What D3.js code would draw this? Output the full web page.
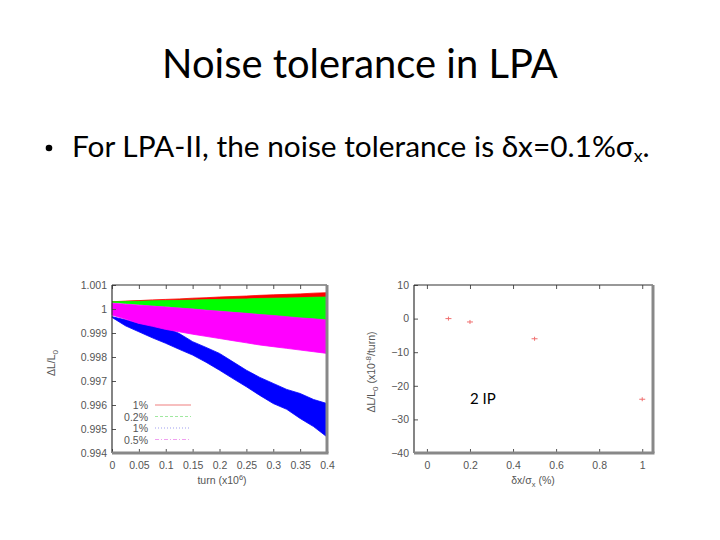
<!DOCTYPE html>
<html>
<head>
<meta charset="utf-8">
<script src="https://cdn.jsdelivr.net/npm/d3@7"></script>
<style>
  body { margin: 0; background: #fff; }
  svg { display: block; }
  .tick text { font-family: "Liberation Sans", Arial, sans-serif; font-size: 10.5px; fill: #555; }
  .lab { font-family: "Liberation Sans", Arial, sans-serif; font-size: 10.5px; fill: #555; }
</style>
</head>
<body>
<svg width="720" height="540"></svg>
<script>
// left plot: envelopes of the four noisy bands (dL/L0 vs turn, x10^6)
const turns = [0, 0.025, 0.05, 0.075, 0.1, 0.125, 0.15, 0.175, 0.2, 0.225, 0.25, 0.275, 0.3, 0.325, 0.35, 0.375, 0.4];
const redHi = [1.0003, 1.00033, 1.00035, 1.00038, 1.0004, 1.00042, 1.00045, 1.00047, 1.0005, 1.00052, 1.00054, 1.00057, 1.00059, 1.00061, 1.00063, 1.00066, 1.00068];
const redLo = [1.0003, 1.00031, 1.00032, 1.00034, 1.00035, 1.00036, 1.00037, 1.00039, 1.0004, 1.00041, 1.00042, 1.00044, 1.00045, 1.00046, 1.00047, 1.00049, 1.0005];
const greenHi = redLo;
const greenLo = [1.00028, 1.00023, 1.00019, 1.00014, 1.0001, 1.00005, 1.00001, 0.99996, 0.99992, 0.99987, 0.99982, 0.99978, 0.99973, 0.99968, 0.99964, 0.99959, 0.99954];
const blueHi = [0.99968, 0.99955, 0.9994, 0.99932, 0.99923, 0.99898, 0.99864, 0.9984, 0.99815, 0.9978, 0.99745, 0.99715, 0.9969, 0.99665, 0.99648, 0.99623, 0.99606];
const blueLo = [0.99965, 0.9993, 0.99905, 0.9988, 0.99857, 0.99832, 0.99808, 0.99778, 0.99745, 0.9971, 0.99676, 0.9964, 0.99606, 0.99582, 0.99544, 0.9951, 0.99467];
const magHi = [1.00024, 1.0002, 1.00016, 1.00012, 1.00008, 1.00004, 1.0, 0.99995, 0.99991, 0.99986, 0.99982, 0.99977, 0.99973, 0.99968, 0.99963, 0.99959, 0.99954];
const magLo = [0.99975, 0.99958, 0.9994, 0.99928, 0.99915, 0.99905, 0.99895, 0.99886, 0.99877, 0.99868, 0.99859, 0.9985, 0.99843, 0.99836, 0.99829, 0.99822, 0.99815];
const legendLabels = ["1%", "0.2%", "1%", "0.5%"];
const bandColours = ["#ff0000", "#00ff00", "#0000ff", "#ff00ff"];
const legendColours = ["#f08080", "#a0e8a0", "#a0a0f0", "#f0a0f0"];
const legendDash = ["none", "3,2", "1,2", "4,2,1,2"];
const leftYTicks = [0.994, 0.995, 0.996, 0.997, 0.998, 0.999, 1, 1.001];
const leftXTicks = [0, 0.05, 0.1, 0.15, 0.2, 0.25, 0.3, 0.35, 0.4];

// right plot: slope vs noise
const noiseLevels = [0.1, 0.2, 0.5, 1.0];
const slopes = [0, -1, -6, -24];
const rightYTicks = [-40, -30, -20, -10, 0, 10];
const rightXTicks = [0, 0.2, 0.4, 0.6, 0.8, 1];

const svg = d3.select("svg");
svg.append("rect").attr("width", 720).attr("height", 540).attr("fill", "#fff");

const slideFont = "Lato, 'Open Sans', 'Noto Sans', sans-serif";

// fit a text's width to what the slide shows
const fitWidth = (sel, target) => {
  const w = sel.node().getComputedTextLength();
  const fs = parseFloat(sel.attr("font-size"));
  sel.attr("font-size", fs * target / w);
};

const title = svg.append("text")
  .attr("x", 360).attr("y", 78)
  .attr("text-anchor", "middle")
  .attr("font-family", slideFont)
  .attr("font-size", 40)
  .text("Noise tolerance in LPA");
fitWidth(title, 396);

svg.append("circle").attr("cx", 49).attr("cy", 148).attr("r", 3.3).attr("fill", "#000");

const bullet = svg.append("text")
  .attr("x", 72).attr("y", 157)
  .attr("font-family", slideFont)
  .attr("font-size", 28);
bullet.append("tspan").text("For LPA-II, the noise tolerance is δx=0.1%σ");
bullet.append("tspan").attr("font-size", "0.6em").attr("dy", 5).text("x");
bullet.append("tspan").attr("dy", -5).text(".");
fitWidth(bullet, 578);

// frame helper: thin dark top/left, thick grey bottom/right
const frame = (g, w, h) => {
  g.append("line").attr("x1", 0).attr("x2", w).attr("y1", 0).attr("y2", 0).attr("stroke", "#333").attr("stroke-width", 1.2);
  g.append("line").attr("x1", 0).attr("x2", 0).attr("y1", 0).attr("y2", h).attr("stroke", "#333").attr("stroke-width", 1.2);
  g.append("line").attr("x1", 0).attr("x2", w + 1.5).attr("y1", h).attr("y2", h).attr("stroke", "#888").attr("stroke-width", 3);
  g.append("line").attr("x1", w).attr("x2", w).attr("y1", 0).attr("y2", h).attr("stroke", "#888").attr("stroke-width", 3);
};

const styleAxis = (g) => {
  g.select(".domain").remove();
  g.selectAll(".tick line").attr("stroke", "#555");
};

// ---------- left plot ----------
const L = { left: 112, top: 285, w: 215, h: 168 };
const xL = d3.scaleLinear().domain([0, 0.4]).range([0, L.w]);
const yL = d3.scaleLinear().domain([0.994, 1.001]).range([L.h, 0]);
const gL = svg.append("g").attr("transform", `translate(${L.left},${L.top})`);

const bands = [
  [redHi, redLo], [greenHi, greenLo], [blueHi, blueLo], [magHi, magLo]
];
const area = d3.area().x((d) => xL(d.t)).y0((d) => yL(d.lo)).y1((d) => yL(d.hi));
bands.forEach(([hi, lo], i) => {
  const rows = turns.map((t, k) => ({ t: t, hi: hi[k], lo: lo[k] }));
  gL.append("path").attr("d", area(rows)).attr("fill", bandColours[i])
    .attr("stroke", bandColours[i]).attr("stroke-width", 0.8);
});

gL.append("g").call(d3.axisLeft(yL).tickValues(leftYTicks).tickSize(-4).tickPadding(5)
  .tickFormat((d) => d === 1 ? "1" : d3.format(".3f")(d))).call(styleAxis);
gL.append("g").call(d3.axisTop(xL).tickValues(leftXTicks).tickSize(-4).tickFormat("")).call(styleAxis);
gL.append("g").attr("transform", `translate(0,${L.h})`)
  .call(d3.axisBottom(xL).tickValues(leftXTicks).tickSize(-4).tickPadding(9)
    .tickFormat((d) => String(d))).call(styleAxis);
frame(gL, L.w, L.h);

// legend
legendLabels.forEach((lab, i) => {
  const y = 405 + i * 11.5 - L.top;
  gL.append("text").attr("class", "lab").attr("x", 36).attr("y", y + 4)
    .attr("text-anchor", "end").text(lab);
  gL.append("line").attr("x1", 43).attr("x2", 79).attr("y1", y).attr("y2", y)
    .attr("stroke", legendColours[i]).attr("stroke-width", 1.2)
    .attr("stroke-dasharray", legendDash[i]);
});

const yLabL = svg.append("text").attr("class", "lab").attr("font-size", "12px")
  .attr("transform", "translate(55,363) rotate(-90)").attr("text-anchor", "middle");
yLabL.append("tspan").text("ΔL/L");
yLabL.append("tspan").attr("font-size", "8px").attr("dy", 3).text("0");

const xLabL = svg.append("text").attr("class", "lab")
  .attr("x", 222).attr("y", 484).attr("text-anchor", "middle");
xLabL.append("tspan").text("turn (x10");
xLabL.append("tspan").attr("font-size", "7.5px").attr("dy", -4).text("6");
xLabL.append("tspan").attr("dy", 4).text(")");

// ---------- right plot ----------
const R = { left: 414, top: 285, w: 239, h: 168 };
const xR = d3.scaleLinear().domain([-0.06, 1.05]).range([0, R.w]);
const yR = d3.scaleLinear().domain([-40, 10]).range([R.h, 0]);
const gR = svg.append("g").attr("transform", `translate(${R.left},${R.top})`);

gR.append("g").call(d3.axisLeft(yR).tickValues(rightYTicks).tickSize(-4).tickPadding(5)).call(styleAxis);
gR.append("g").call(d3.axisTop(xR).tickValues(rightXTicks).tickSize(-4).tickFormat("")).call(styleAxis);
gR.append("g").attr("transform", `translate(0,${R.h})`)
  .call(d3.axisBottom(xR).tickValues(rightXTicks).tickSize(-4).tickPadding(9)
    .tickFormat((d) => String(d))).call(styleAxis);
frame(gR, R.w, R.h);

gR.selectAll("path.pt")
  .data(noiseLevels.map((n, i) => ({ n: n, s: slopes[i] })))
  .join("path")
  .attr("class", "pt")
  .attr("d", (d) => {
    const cx = xR(d.n), cy = yR(d.s);
    return `M${cx - 3},${cy}H${cx + 3}M${cx},${cy - 2}V${cy + 2}`;
  })
  .attr("stroke", "#f07070").attr("stroke-width", 1);

svg.append("text").attr("x", 470).attr("y", 404)
  .attr("font-family", slideFont).attr("font-size", 15).text("2 IP");

const yLabR = svg.append("text").attr("class", "lab").attr("font-size", "11.5px")
  .attr("transform", "translate(375,372) rotate(-90)").attr("text-anchor", "middle");
yLabR.append("tspan").text("ΔL/L");
yLabR.append("tspan").attr("font-size", "8px").attr("dy", 3).text("0");
yLabR.append("tspan").attr("dy", -3).text(" (x10");
yLabR.append("tspan").attr("font-size", "8px").attr("dy", -4).text("-8");
yLabR.append("tspan").attr("dy", 4).text("/turn)");

const xLabR = svg.append("text").attr("class", "lab")
  .attr("x", 533).attr("y", 484).attr("text-anchor", "middle");
xLabR.append("tspan").text("δx/σ");
xLabR.append("tspan").attr("font-size", "7.5px").attr("dy", 3).text("x");
xLabR.append("tspan").attr("dy", -3).text(" (%)");
</script>
</body>
</html>
